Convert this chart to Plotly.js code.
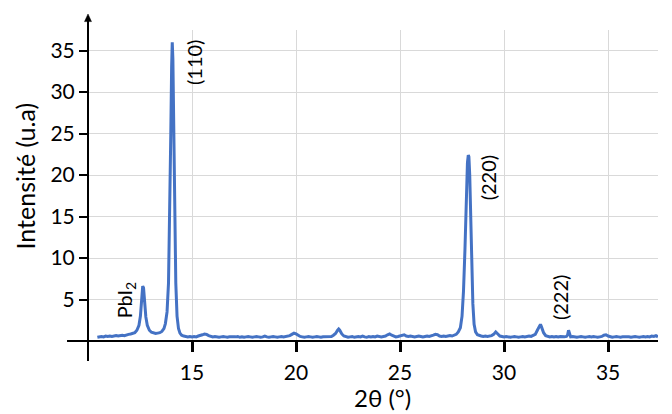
<!DOCTYPE html>
<html>
<head>
<meta charset="utf-8">
<script src="https://cdn.plot.ly/plotly-3.0.1.min.js"></script>
<style>html,body{margin:0;padding:0;background:#fff;}#chart{width:672px;height:414px;}</style>
</head>
<body>
<div id="chart"></div>
<script>
// 2θ (degrees)
const twoTheta = [
10.45,10.55,10.65,10.75,10.85,10.95,11.05,11.15,11.25,11.35,11.45,11.55,11.65,11.75,11.85,11.95,12.05,12.15,12.25,12.35,12.45,12.52,12.58,12.63,12.67,12.72,12.78,12.85,12.95,
13.05,13.15,13.25,13.35,13.45,13.55,13.65,13.72,13.8,13.87,13.93,13.98,14.02,14.05,14.08,14.12,14.17,14.22,14.28,14.35,14.42,14.5,14.6,14.7,14.8,14.9,
15.0,15.1,15.2,15.3,15.4,15.5,15.6,15.7,15.8,15.9,16.0,16.1,16.2,16.3,16.4,16.5,16.6,16.7,16.8,16.9,
17.0,17.1,17.2,17.3,17.4,17.5,17.6,17.7,17.8,17.9,18.0,18.1,18.2,18.3,18.4,18.5,18.6,18.7,18.8,18.9,
19.0,19.1,19.2,19.3,19.4,19.5,19.6,19.7,19.8,19.9,20.0,20.1,20.2,20.3,20.4,20.5,20.6,20.7,20.8,20.9,
21.0,21.1,21.2,21.3,21.4,21.5,21.6,21.7,21.8,21.9,22.0,22.05,22.1,22.2,22.3,22.4,22.5,22.6,22.7,22.8,22.9,
23.0,23.1,23.2,23.3,23.4,23.5,23.6,23.7,23.8,23.9,24.0,24.1,24.2,24.3,24.4,24.5,24.6,24.7,24.8,24.9,
25.0,25.1,25.2,25.3,25.4,25.5,25.6,25.7,25.8,25.9,26.0,26.1,26.2,26.3,26.4,26.5,26.6,26.7,26.8,26.9,
27.0,27.1,27.2,27.3,27.4,27.5,27.6,27.7,27.8,27.9,27.98,28.05,28.12,28.18,28.24,28.28,28.31,28.35,28.4,28.45,28.5,28.56,28.63,28.72,28.8,28.9,
29.0,29.1,29.2,29.3,29.4,29.5,29.6,29.7,29.8,29.9,30.0,30.1,30.2,30.3,30.4,30.5,30.6,30.7,30.8,30.9,
31.0,31.1,31.2,31.3,31.4,31.5,31.6,31.7,31.75,31.8,31.9,32.0,32.1,32.2,32.3,32.4,32.5,32.6,32.7,32.8,32.9,
33.0,33.05,33.1,33.15,33.2,33.3,33.4,33.5,33.6,33.7,33.8,33.9,34.0,34.1,34.2,34.3,34.4,34.5,34.6,34.7,34.8,34.9,
35.0,35.1,35.2,35.3,35.4,35.5,35.6,35.7,35.8,35.9,36.0,36.1,36.2,36.3,36.4,36.5,36.6,36.7,36.8,36.9,
37.0,37.1,37.2,37.3,37.4
];
// Intensity (a.u.)
const intensity = [
0.45,0.5,0.55,0.5,0.6,0.55,0.6,0.55,0.6,0.65,0.6,0.65,0.7,0.65,0.75,0.8,0.85,0.9,1.0,1.3,1.9,3.0,4.8,6.6,6.4,4.6,2.9,1.9,1.3,
1.05,0.95,0.9,0.95,1.0,1.15,1.5,2.1,3.5,7.0,14.5,25,33,36,34,26,15,7,3,1.5,0.95,0.7,0.6,0.55,0.5,0.55,
0.5,0.55,0.5,0.6,0.65,0.75,0.85,0.8,0.65,0.55,0.5,0.55,0.5,0.45,0.5,0.55,0.5,0.45,0.5,0.5,
0.45,0.5,0.55,0.45,0.5,0.45,0.5,0.55,0.5,0.45,0.5,0.55,0.5,0.45,0.5,0.6,0.5,0.45,0.5,0.55,
0.5,0.45,0.5,0.55,0.5,0.55,0.6,0.65,0.8,0.95,0.85,0.65,0.55,0.5,0.45,0.5,0.55,0.5,0.45,0.5,
0.55,0.5,0.45,0.5,0.5,0.55,0.5,0.55,0.7,0.9,1.3,1.45,1.3,0.85,0.6,0.5,0.45,0.5,0.55,0.45,0.5,
0.55,0.5,0.6,0.5,0.45,0.55,0.5,0.55,0.5,0.6,0.55,0.5,0.55,0.6,0.75,0.85,0.7,0.55,0.5,0.55,
0.6,0.7,0.75,0.6,0.55,0.6,0.55,0.5,0.55,0.6,0.55,0.5,0.55,0.6,0.55,0.6,0.7,0.8,0.75,0.6,
0.55,0.6,0.55,0.6,0.65,0.6,0.7,0.8,1.1,1.6,3.0,6,11,17,21.5,22.4,22.2,20,15,9,4.5,2.0,1.1,0.75,0.65,0.6,
0.55,0.6,0.55,0.6,0.65,0.8,1.1,0.85,0.6,0.55,0.5,0.55,0.5,0.45,0.5,0.55,0.5,0.45,0.5,0.55,
0.5,0.55,0.6,0.55,0.65,0.8,1.3,1.9,2.0,1.7,1.0,0.65,0.55,0.5,0.55,0.5,0.55,0.5,0.55,0.5,0.5,
0.55,0.7,1.3,0.7,0.5,0.55,0.5,0.45,0.5,0.55,0.5,0.45,0.5,0.55,0.5,0.55,0.5,0.45,0.5,0.55,0.7,0.75,
0.6,0.5,0.45,0.5,0.55,0.5,0.45,0.5,0.5,0.55,0.5,0.45,0.5,0.55,0.5,0.45,0.5,0.55,0.5,0.55,
0.5,0.6,0.55,0.65,0.5
];
const xTickVals = [15, 20, 25, 30, 35];
const yTickVals = [5, 10, 15, 20, 25, 30, 35];
const peakLabels = ['PbI<sub>2</sub>', '(110)', '(220)', '(222)'];
const peakLabelX = [11.78, 15.1, 29.23, 32.7];
const peakLabelY = [4.9, 33.5, 19.6, 5.2];

const FONT = 'Lato, "Open Sans", sans-serif';

const trace = {
  x: twoTheta, y: intensity, type: 'scatter', mode: 'lines',
  line: {color: '#4472C4', width: 3}, hoverinfo: 'skip'
};

const annotations = peakLabels.map((t, i) => ({
  x: peakLabelX[i], y: peakLabelY[i], xref: 'x', yref: 'y',
  text: t, showarrow: false, textangle: -90,
  font: {family: FONT, size: 20, color: '#000'},
  xanchor: 'center', yanchor: 'middle'
}));
// axis titles
annotations.push({
  x: 0.5175, y: -0.183, xref: 'paper', yref: 'paper', text: '2θ (°)',
  showarrow: false, font: {family: FONT, size: 24, color: '#000'},
  xanchor: 'center', yanchor: 'middle'
});
annotations.push({
  x: -0.11, y: 0.53, xref: 'paper', yref: 'paper', text: 'Intensité (u.a)',
  showarrow: false, textangle: -90, font: {family: FONT, size: 25, color: '#000'},
  xanchor: 'center', yanchor: 'middle'
});

const layout = {
  width: 672, height: 414,
  margin: {l: 88, r: 14, t: 30, b: 73},
  paper_bgcolor: '#fff', plot_bgcolor: '#fff',
  showlegend: false,
  font: {family: FONT, size: 21, color: '#000'},
  xaxis: {
    range: [10, 37.4], tickvals: xTickVals, ticktext: xTickVals.map(String),
    ticks: 'outside', ticklen: 10, tickwidth: 3, tickcolor: '#000',
    ticklabelstandoff: 3,
    showgrid: true, gridcolor: '#d9d9d9', gridwidth: 1,
    zeroline: false, showline: false,
    tickfont: {family: FONT, size: 21, color: '#000'}
  },
  yaxis: {
    range: [0, 37.47], tickvals: yTickVals, ticktext: yTickVals.map(String),
    ticks: 'outside', ticklen: 8, tickwidth: 2, tickcolor: '#000',
    showgrid: true, gridcolor: '#d9d9d9', gridwidth: 1,
    zeroline: false, showline: false,
    tickfont: {family: FONT, size: 21, color: '#000'}
  },
  shapes: [
    {type: 'line', xref: 'paper', yref: 'paper', x0: -0.0368, x1: 1, y0: 0, y1: 0,
     line: {color: '#000', width: 2}},
    {type: 'line', xref: 'paper', yref: 'paper', x0: 0, x1: 0, y0: -0.0643, y1: 1.035,
     line: {color: '#000', width: 2}},
    {type: 'path', xref: 'paper', yref: 'paper',
     path: 'M -0.0061,1.027 L 0.0061,1.027 L 0,1.0514 Z',
     fillcolor: '#000', line: {color: '#000', width: 0.5}}
  ],
  annotations: annotations
};

Plotly.newPlot('chart', [trace], layout, {staticPlot: true, displayModeBar: false});
</script>
</body>
</html>
